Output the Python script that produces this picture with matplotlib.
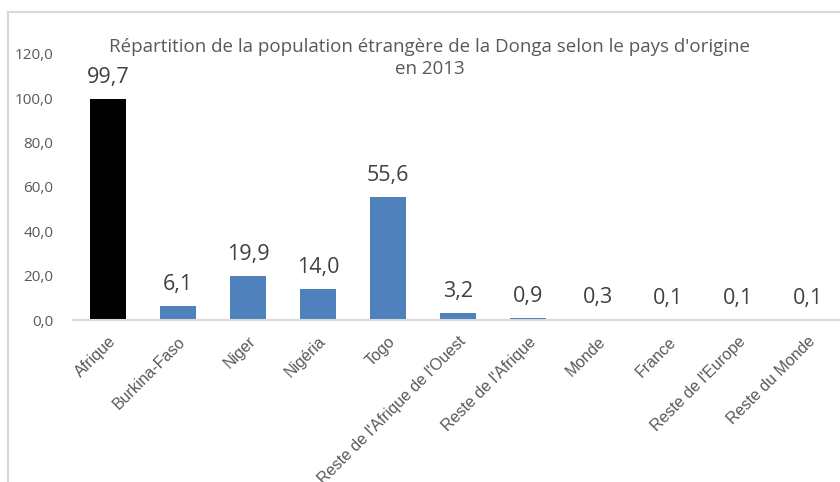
import matplotlib
matplotlib.use("Agg")
import matplotlib.pyplot as plt
from matplotlib.lines import Line2D

categories = ["Afrique", "Burkina-Faso", "Niger", "Nigéria", "Togo",
              "Reste de l'Afrique de l'Ouest", "Reste de l'Afrique", "Monde",
              "France", "Reste de l'Europe", "Reste du Monde"]
values = [99.7, 6.1, 19.9, 14.0, 55.6, 3.2, 0.9, 0.3, 0.1, 0.1, 0.1]
value_labels = ["99,7", "6,1", "19,9", "14,0", "55,6", "3,2", "0,9", "0,3", "0,1", "0,1", "0,1"]
yticks = [0, 20, 40, 60, 80, 100, 120]
ytick_labels = ["0,0", "20,0", "40,0", "60,0", "80,0", "100,0", "120,0"]
title = "Répartition de la population étrangère de la Donga selon le pays d'origine\nen 2013"

colors = ["#000000"] + ["#4f81bd"] * (len(values) - 1)
gray = "#595959"

fig = plt.figure(figsize=(8.4, 4.82), dpi=100)
fig.patch.set_facecolor("white")

# outer chart border (top and left visible)
fig.add_artist(Line2D([8/840, 8/840], [0, 1 - 12/482], color="#d9d9d9", lw=1.5, transform=fig.transFigure))
fig.add_artist(Line2D([8/840, 1], [1 - 12/482, 1 - 12/482], color="#d9d9d9", lw=1.5, transform=fig.transFigure))

ax = fig.add_axes([73/840, 162/482, 770/840, 266/482])
x = list(range(len(categories)))
bars = ax.bar(x, values, width=0.51, color=colors)
ax.set_xlim(-0.5, len(categories) - 0.5)
ax.set_ylim(0, 120)
ax.set_yticks(yticks)
ax.set_yticklabels(ytick_labels, fontsize=11, color=gray, family="Open Sans")
ax.set_xticks(x)
ax.set_xticklabels(categories, rotation=45, ha="right", va="top", rotation_mode="anchor",
                   fontsize=11.5, color=gray, family="Liberation Sans")
ax.tick_params(axis="both", length=0)
ax.tick_params(axis="y", pad=14)
ax.tick_params(axis="x", pad=10)
for s in ["top", "right", "left"]:
    ax.spines[s].set_visible(False)
ax.spines["bottom"].set_color("#d9d9d9")
ax.spines["bottom"].set_linewidth(1.5)

for xi, v, lab in zip(x, values, value_labels):
    ax.annotate(lab, (xi, v), xytext=(0, 8), textcoords="offset points",
                ha="center", va="bottom", fontsize=15.5, color="#404040", family="Open Sans")

fig.text(430/840, 1 - 38/482, title, ha="center", va="top", fontsize=13.5,
         color=gray, family="Open Sans", linespacing=1.25)

fig.savefig("out.png", dpi=100)
